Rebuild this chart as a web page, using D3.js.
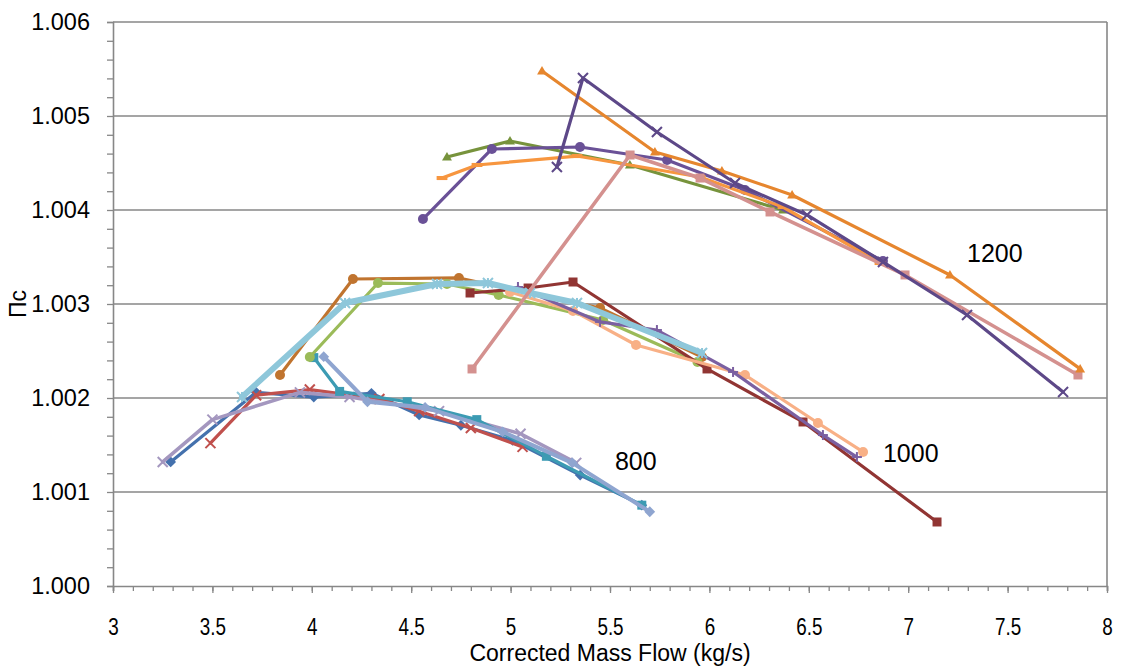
<!DOCTYPE html>
<html>
<head>
<meta charset="utf-8">
<script src="https://cdn.jsdelivr.net/npm/d3@7"></script>
<style>
  body { margin: 0; background: #fff; }
  text { font-family: "Liberation Sans", Arial, sans-serif; fill: #000; }
</style>
</head>
<body>
<svg id="chart" width="1124" height="666"></svg>
<script>
// Compressor pressure ratio vs corrected mass flow, three speed lines.
const xTickValues = [3, 3.5, 4, 4.5, 5, 5.5, 6, 6.5, 7, 7.5, 8];
const yTickValues = [1.000, 1.001, 1.002, 1.003, 1.004, 1.005, 1.006];
const xTitle = "Corrected Mass Flow (kg/s)";
const yTitle = "Πc";
const speedLabels = ["800", "1000", "1200"];
const speedLabelAt = [[5.525, 1.00123], [6.873, 1.00132], [7.296, 1.00345]];

// 800 speed line runs
const run800a = [[3.29,1.00132],[3.72,1.00206],[4.01,1.00201],[4.30,1.00205],[4.54,1.00182],[4.75,1.00171],[5.01,1.00155],[5.35,1.00118],[5.66,1.00086]];
const run800b = [[3.49,1.00152],[3.72,1.00203],[3.99,1.00209],[4.34,1.00199],[4.54,1.00186],[4.80,1.00168],[5.06,1.00148]];
const run800c = [[3.25,1.00132],[3.50,1.00177],[3.94,1.00206],[4.19,1.00201],[4.64,1.00186],[5.05,1.00162],[5.33,1.00131]];
const run800d = [[4.01,1.00243],[4.14,1.00207],[4.48,1.00196],[4.83,1.00177],[5.18,1.00138],[5.66,1.00086]];
const run800e = [[4.06,1.00244],[4.28,1.00196],[4.57,1.00190],[4.96,1.00164],[5.31,1.00131],[5.70,1.00079]];

// 1000 speed line runs
const run1000a = [[3.84,1.002245],[4.207,1.003266],[4.74,1.003277],[5.45,1.002957],[5.963,1.002436]];
const run1000b = [[3.99,1.002436],[4.333,1.003223],[4.68,1.003213],[4.94,1.003096],[5.465,1.00283],[5.94,1.002383]];
const run1000c = [[4.796,1.003117],[5.088,1.00317],[5.314,1.003234],[5.988,1.002309],[6.471,1.001745],[7.145,1.000681]];
const run1000d = [[4.997,1.003128],[5.314,1.002926],[5.631,1.002564],[6.179,1.002245],[6.546,1.001734],[6.773,1.001426]];
const run1000e = [[5.037,1.003181],[5.45,1.002809],[5.736,1.002723],[6.119,1.002277],[6.571,1.001606],[6.742,1.001372]];
const run1000f = [[3.649,1.002011],[4.167,1.003011],[4.63,1.003213],[4.886,1.003223],[5.098,1.003117],[5.334,1.003011],[5.963,1.002479]];

// 1200 speed line runs
const run1200a = [[4.68,1.004564],[4.997,1.004734],[5.6,1.004479],[6.37,1.004]];
const run1200b = [[4.559,1.003904],[4.906,1.004649],[5.349,1.00467],[5.787,1.004532],[6.179,1.004213],[6.873,1.003457]];
const run1200c = [[4.655,1.00434],[4.831,1.004479],[5.334,1.004574],[5.953,1.004351],[6.37,1.004032],[6.858,1.003436]];
const run1200d = [[5.233,1.004457],[5.364,1.005404],[5.736,1.00483],[6.129,1.004287],[6.491,1.003947],[6.873,1.003447],[7.296,1.002883],[7.779,1.002064]];
const run1200e = [[5.158,1.005479],[5.726,1.004617],[6.063,1.004415],[6.416,1.00416],[7.21,1.003309],[7.865,1.00231]];
const run1200f = [[4.806,1.002309],[5.601,1.004585],[5.953,1.00434],[6.305,1.003979],[6.984,1.003309],[7.854,1.002245]];

// drawing order and look of each run
const runs = [
  { data: run800a,  color: "#4471ad", width: 3.2, marker: "diamond" },
  { data: run800b,  color: "#c0504d", width: 3.2, marker: "x" },
  { data: run800c,  color: "#a497bf", width: 3.6, marker: "x" },
  { data: run800d,  color: "#3c9bb3", width: 3.2, marker: "square" },
  { data: run800e,  color: "#8fa5d0", width: 4,   marker: "diamond" },
  { data: run1000a, color: "#c0742f", width: 3.2, marker: "circle" },
  { data: run1000b, color: "#9bbb59", width: 3.2, marker: "circle" },
  { data: run1000c, color: "#913533", width: 3.2, marker: "square" },
  { data: run1000d, color: "#f8b086", width: 3.2, marker: "circle" },
  { data: run1000e, color: "#7b60a1", width: 3.2, marker: "plus" },
  { data: run1000f, color: "#8ec7da", width: 6,   marker: "star" },
  { data: run1200a, color: "#77933c", width: 3.2, marker: "triangle" },
  { data: run1200b, color: "#6a5197", width: 3.2, marker: "circle" },
  { data: run1200c, color: "#f7963f", width: 3.2, marker: "dash" },
  { data: run1200f, color: "#d4918f", width: 3.6, marker: "square" },
  { data: run1200e, color: "#e6862e", width: 3.2, marker: "triangle" },
  { data: run1200d, color: "#5d4888", width: 3.2, marker: "x" }
];

const svg = d3.select("#chart");
const plot = { left: 113, right: 1107, top: 22, bottom: 586 };

const x = d3.scaleLinear().domain([3, 8]).range([plot.left, plot.right]);
const y = d3.scaleLinear().domain([1.000, 1.006]).range([plot.bottom, plot.top]);

const axisColor = "#878787";

// horizontal gridlines
svg.append("g").selectAll("line")
  .data(yTickValues.slice(1))
  .join("line")
  .attr("x1", plot.left).attr("x2", plot.right)
  .attr("y1", d => y(d)).attr("y2", d => y(d))
  .attr("stroke", axisColor).attr("stroke-width", 1.6);

// right border of plot area
svg.append("line")
  .attr("x1", plot.right).attr("x2", plot.right)
  .attr("y1", plot.top).attr("y2", plot.bottom)
  .attr("stroke", axisColor).attr("stroke-width", 1.6);

// y axis with minor ticks
const yMinor = d3.range(0, 31).map(i => 1.000 + i * 0.0002);
svg.append("g")
  .attr("transform", `translate(${plot.left},0)`)
  .call(d3.axisLeft(y).tickValues(yMinor).tickSize(6).tickFormat(""))
  .call(g => g.selectAll("line").attr("stroke", axisColor).attr("stroke-width", 1.3))
  .call(g => g.select(".domain").attr("stroke", axisColor).attr("stroke-width", 1.6));

svg.append("g")
  .attr("transform", `translate(${plot.left},0)`)
  .call(d3.axisLeft(y).tickValues(yTickValues).tickSize(0).tickPadding(23).tickFormat(d3.format(".3f")))
  .call(g => g.select(".domain").remove())
  .call(g => g.selectAll("text")
    .attr("font-size", 23.5)
    .attr("fill", "#000"));

// x axis with minor ticks
const xMinor = d3.range(0, 51).map(i => 3 + i * 0.1);
svg.append("g")
  .attr("transform", `translate(0,${plot.bottom})`)
  .call(d3.axisBottom(x).tickValues(xMinor).tickSize(5).tickFormat(""))
  .call(g => g.selectAll("line").attr("stroke", axisColor).attr("stroke-width", 1.3))
  .call(g => g.select(".domain").attr("stroke", axisColor).attr("stroke-width", 1.6));

svg.append("g")
  .attr("transform", `translate(0,${plot.bottom})`)
  .call(d3.axisBottom(x).tickValues(xTickValues).tickSize(7).tickPadding(26).tickFormat(d3.format("")))
  .call(g => g.select(".domain").remove())
  .call(g => g.selectAll("line").attr("stroke", axisColor).attr("stroke-width", 1.3))
  .call(g => g.selectAll("text")
    .attr("font-size", 23)
    .attr("transform", "scale(0.82,1)")
    .attr("fill", "#000"));

// axis titles
svg.append("text")
  .attr("x", (plot.left + plot.right) / 2)
  .attr("y", 661)
  .attr("text-anchor", "middle")
  .attr("font-size", 23)
  .text(xTitle);

svg.append("text")
  .attr("transform", `translate(26,${y(1.003)}) rotate(-90)`)
  .attr("text-anchor", "middle")
  .attr("font-size", 23)
  .text(yTitle);

// marker shapes
function markerPath(type, s) {
  const h = s / 2;
  switch (type) {
    case "diamond": return `M0,${-h*1.2}L${h*1.2},0L0,${h*1.2}L${-h*1.2},0Z`;
    case "square": return `M${-h},${-h}H${h}V${h}H${-h}Z`;
    case "triangle": return `M0,${-h*1.1}L${h*1.1},${h*0.8}L${-h*1.1},${h*0.8}Z`;
    case "dash": return `M${-h*1.2},${-h*0.45}H${h*1.2}V${h*0.45}H${-h*1.2}Z`;
    default: return null;
  }
}

const line = d3.line().x(d => x(d[0])).y(d => y(d[1]));

runs.forEach(r => {
  const g = svg.append("g");
  g.append("path")
    .attr("d", line(r.data))
    .attr("fill", "none")
    .attr("stroke", r.color)
    .attr("stroke-width", r.width)
    .attr("stroke-linejoin", "round")
    .attr("stroke-linecap", "round");

  const pts = g.selectAll("g.pt").data(r.data).join("g")
    .attr("transform", d => `translate(${x(d[0])},${y(d[1])})`);

  const s = 9;
  if (r.marker === "circle") {
    pts.append("circle").attr("r", s / 2 + 0.5).attr("fill", r.color);
  } else if (r.marker === "x" || r.marker === "plus" || r.marker === "star") {
    const h = s / 2 + 0.5;
    const segs = [];
    if (r.marker !== "plus") segs.push([-h, -h, h, h], [-h, h, h, -h]);
    if (r.marker !== "x") segs.push([0, -h, 0, h]);
    if (r.marker === "plus") segs.push([-h, 0, h, 0]);
    segs.forEach(sg => {
      pts.append("line")
        .attr("x1", sg[0]).attr("y1", sg[1]).attr("x2", sg[2]).attr("y2", sg[3])
        .attr("stroke", r.color).attr("stroke-width", 2);
    });
  } else {
    pts.append("path").attr("d", markerPath(r.marker, s)).attr("fill", r.color);
  }
});

// speed line labels
svg.append("g").selectAll("text")
  .data(speedLabels)
  .join("text")
  .attr("x", (d, i) => x(speedLabelAt[i][0]))
  .attr("y", (d, i) => y(speedLabelAt[i][1]))
  .attr("font-size", 25)
  .text(d => d);
</script>
</body>
</html>
